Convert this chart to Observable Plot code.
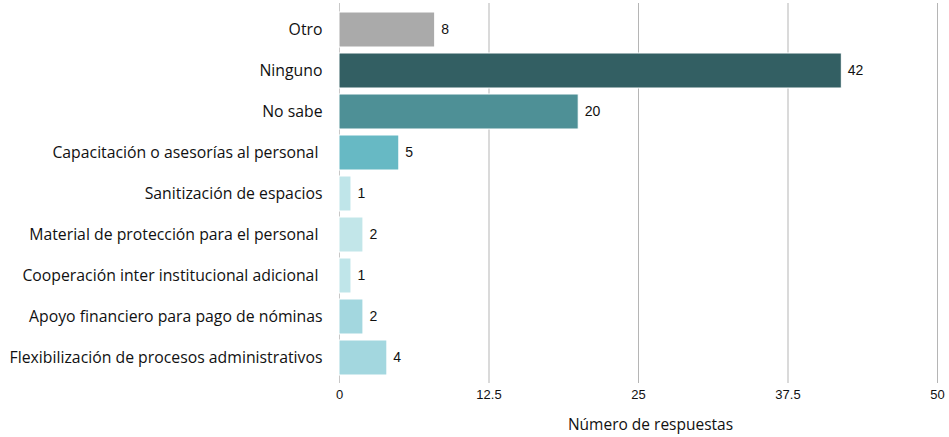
<!DOCTYPE html>
<html>
<head>
<meta charset="utf-8">
<script src="https://cdn.jsdelivr.net/npm/d3@7"></script>
<script src="https://cdn.jsdelivr.net/npm/@observablehq/plot@0.6"></script>
<style>
  html, body { margin: 0; padding: 0; background: #fff; }
  #chart svg { display: block; }
</style>
</head>
<body>
<div id="chart"></div>
<script>
const categories = [
  "Otro",
  "Ninguno",
  "No sabe",
  "Capacitación o asesorías al personal ",
  "Sanitización de espacios",
  "Material de protección para el personal ",
  "Cooperación inter institucional adicional ",
  "Apoyo financiero para pago de nóminas",
  "Flexibilización de procesos administrativos"
];
const values = [8, 42, 20, 5, 1, 2, 1, 2, 4];
const colors = ["#aaaaaa", "#335f63", "#4e9096", "#67b9c4", "#bfe5e9", "#c2e6e9", "#bfe5e9", "#a3d7df", "#a3d7df"];
const xTicks = [0, 12.5, 25, 37.5, 50];
const xLabel = "Número de respuestas";

const data = categories.map((c, i) => ({category: c, value: values[i], color: colors[i]}));

const chart = Plot.plot({
  width: 949,
  height: 437,
  marginLeft: 339,
  marginRight: 12,
  marginTop: 3,
  marginBottom: 54,
  style: {fontFamily: "Liberation Sans, Arial, sans-serif", fontSize: "13px", color: "#111"},
  x: {domain: [0, 50], ticks: xTicks},
  y: {domain: categories, padding: 0.155},
  marks: [
    Plot.gridX(xTicks.slice(1), {stroke: "#b5b5b5", strokeOpacity: 1, strokeWidth: 1}),
    Plot.ruleX([0], {stroke: "#c8c8c8"}),
    Plot.barX(data, {y: "category", x: "value", fill: "color", stroke: "white", strokeWidth: 1}),
    Plot.text(data, {y: "category", x: "value", text: d => String(d.value), textAnchor: "start", dx: 6, fontSize: 14, fill: "#111"}),
    Plot.axisX({ticks: xTicks, tickSize: 0, tickPadding: 6, label: null, fontSize: 13, tickFormat: d => String(d)}),
    Plot.axisY({tickSize: 0, tickPadding: 17, label: null, fontSize: 15.8, fontFamily: "Open Sans, sans-serif"}),
    Plot.text([xLabel], {frameAnchor: "bottom", dy: 46, fontSize: 15.5, fontFamily: "Open Sans, sans-serif", fill: "#111", dx: 12})
  ]
});
document.getElementById("chart").append(chart);
</script>
</body>
</html>
